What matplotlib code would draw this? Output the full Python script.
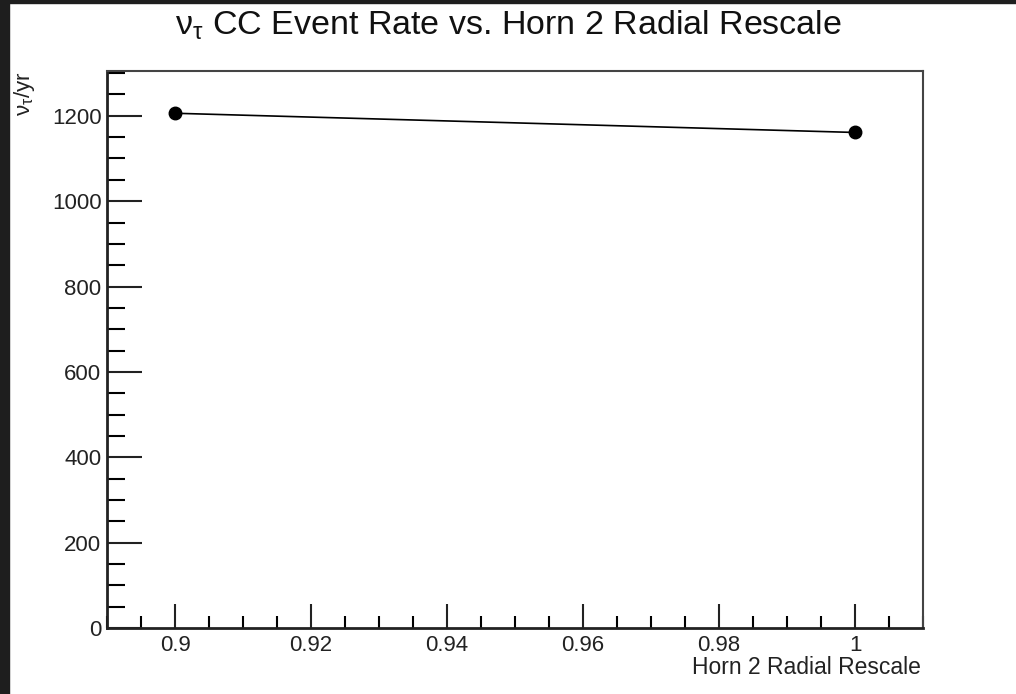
import matplotlib
matplotlib.use("Agg")
import matplotlib.pyplot as plt
from matplotlib.ticker import MultipleLocator, FuncFormatter
from matplotlib.patches import Rectangle

plt.rcParams['font.family'] = ['Liberation Sans', 'DejaVu Sans']
plt.rcParams['mathtext.fontset'] = 'custom'
plt.rcParams['mathtext.rm'] = 'Liberation Sans'
plt.rcParams['mathtext.it'] = 'Liberation Sans'

# data
rescale = [0.9, 1.0]
rate = [1206, 1161]

fig = plt.figure(figsize=(10.16, 6.94), dpi=100)
W, H = 1016, 694

# dark frame around the screenshot
fig.patches.append(Rectangle((0, 0), 9 / W, 1, transform=fig.transFigure, color="#1e1e1e", zorder=10))
fig.patches.append(Rectangle((0, 1 - 3 / H), 1, 3 / H, transform=fig.transFigure, color="#1e1e1e", zorder=10))

ax = fig.add_axes([107 / W, 1 - 628 / H, (923 - 107) / W, (628 - 71) / H])
ax.plot(rescale, rate, color="black", lw=1.2, marker="o", ms=9, mfc="black", mec="black")

ax.set_xlim(0.89, 1.01)
ax.set_ylim(0, 1305)

ax.xaxis.set_major_locator(MultipleLocator(0.02))
ax.xaxis.set_minor_locator(MultipleLocator(0.005))
ax.yaxis.set_major_locator(MultipleLocator(200))
ax.yaxis.set_minor_locator(MultipleLocator(50))
ax.xaxis.set_major_formatter(FuncFormatter(lambda v, p: ("%g" % round(v, 3))))

ax.tick_params(axis="x", which="major", direction="in", length=17, width=1.5, labelsize=16, pad=5)
ax.tick_params(axis="x", which="minor", direction="in", length=9, width=1.5)
ax.tick_params(axis="y", which="major", direction="in", length=25, width=1.5, labelsize=16, pad=4)
ax.tick_params(axis="y", which="minor", direction="in", length=13, width=1.5)
ax.tick_params(colors="#222222")

for s in ["left", "bottom"]:
    ax.spines[s].set_linewidth(2)
    ax.spines[s].set_color("#222222")
for s in ["top", "right"]:
    ax.spines[s].set_linewidth(1.5)
    ax.spines[s].set_color("#444444")

fig.text(508 / W, 1 - 35 / H, r"$\mathrm{\nu_{\tau}}$ CC Event Rate vs. Horn 2 Radial Rescale",
         ha="center", va="baseline", fontsize=24.5, color="#111111")
fig.text(921 / W, 1 - 668 / H, "Horn 2 Radial Rescale", ha="right", va="center",
         fontsize=16.5, color="#222222")
fig.text(12 / W, 1 - 72 / H, r"$\mathrm{\nu_{\tau}}$/yr", ha="left", va="top", rotation=90,
         fontsize=16, color="#222222")

fig.savefig("out.png", dpi=100)
